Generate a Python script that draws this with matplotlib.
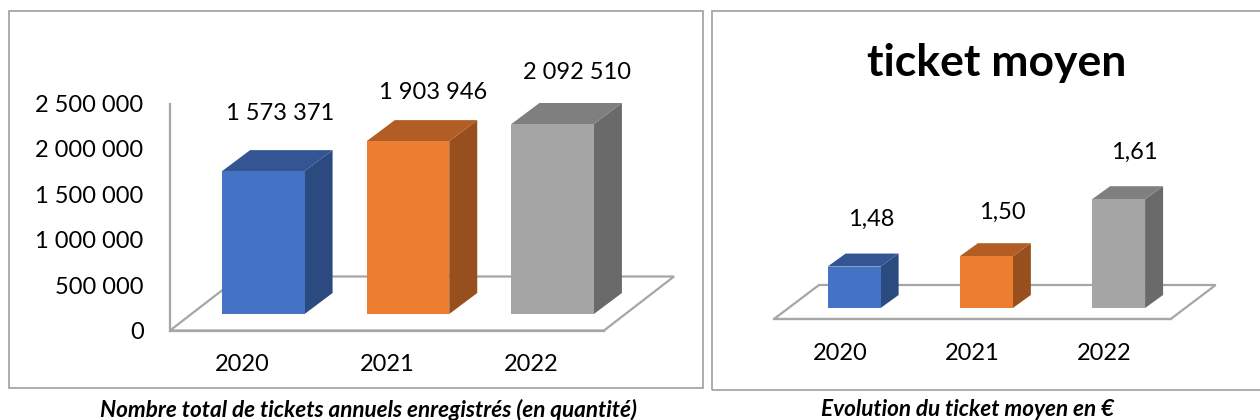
import matplotlib
matplotlib.use("Agg")
import matplotlib.pyplot as plt
from matplotlib.patches import Polygon, Rectangle

plt.rcParams['font.family'] = ['Lato', 'DejaVu Sans']

W, H = 1260, 420

years = ['2020', '2021', '2022']
tickets = [1573371, 1903946, 2092510]
ticket_ticks = [0, 500000, 1000000, 1500000, 2000000, 2500000]
ticket_labels = ['1 573 371', '1 903 946', '2 092 510']
moyen = [1.48, 1.50, 1.61]
moyen_labels = ['1,48', '1,50', '1,61']

# front, top, side
blue = ['#4472c4', '#335593', '#2b4a80']
orange = ['#ed7d31', '#b25d23', '#97501d']
grey = ['#a5a5a5', '#7f7f7f', '#6a6a6a']
colors = [blue, orange, grey]
line_color = '#a6a6a6'
text_size = 17


def make_axes(fig, left, right, bottom, top):
    # pixel box, y counted from the top of the image
    ax = fig.add_axes([left / W, 1 - bottom / H, (right - left) / W, (bottom - top) / H])
    ax.patch.set_alpha(0)
    return ax


def draw_bars(ax, values, floor, ymin, bar_w, bar_shift, lift, depth):
    # everything in px is turned into data units so that bars follow the axes scale
    x_px, y_px = ax.transData.transform((1, ymin + 1)) - ax.transData.transform((0, ymin))
    x_px = abs(x_px)
    y_px = abs(y_px)

    fx, fy = floor[0] / x_px, floor[1] / y_px
    ax.add_patch(Polygon([(-0.5, ymin), (2.5, ymin), (2.5 + fx, ymin + fy), (-0.5 + fx, ymin + fy)],
                         closed=True, fill=False, edgecolor=line_color, lw=1.6, clip_on=False, zorder=1))

    dx, dy = depth[0] / x_px, depth[1] / y_px
    up = lift / y_px
    w = bar_w / x_px
    shift = bar_shift / x_px
    for i, v in enumerate(values):
        c = colors[i]
        x0 = i - w / 2 + shift
        x1 = i + w / 2 + shift
        y0 = ymin + up
        y1 = v + up
        ax.add_patch(Polygon([(x1, y0), (x1 + dx, y0 + dy), (x1 + dx, y1 + dy), (x1, y1)],
                             color=c[2], lw=0, clip_on=False, zorder=3))
        ax.add_patch(Polygon([(x0, y1), (x1, y1), (x1 + dx, y1 + dy), (x0 + dx, y1 + dy)],
                             color=c[1], lw=0, clip_on=False, zorder=3))
        ax.add_patch(Rectangle((x0, y0), x1 - x0, y1 - y0, color=c[0], lw=0, clip_on=False, zorder=4))


fig = plt.figure(figsize=(W / 100, H / 100), dpi=100)

# chart frames
fig.add_artist(Rectangle((9 / W, 1 - 388 / H), 694 / W, 377 / H, fill=False, edgecolor=line_color, lw=1.3))
fig.add_artist(Rectangle((712 / W, 1 - 390 / H), 560 / W, 379 / H, fill=False, edgecolor=line_color, lw=1.3))

# left chart
ax1 = make_axes(fig, 170, 604, 330.5, 103.5)
ax1.set_xlim(-0.5, 2.5)
ax1.set_ylim(0, 2500000)
ax1.set_xticks(range(3), years)
ax1.set_yticks(ticket_ticks, [f'{t:,}'.replace(',', ' ') for t in ticket_ticks])
ax1.tick_params(length=0, labelsize=text_size, colors='black')
ax1.tick_params(axis='x', pad=17)
ax1.tick_params(axis='y', pad=19)
for s in ['top', 'right']:
    ax1.spines[s].set_visible(False)
for s in ['left', 'bottom']:
    ax1.spines[s].set_color(line_color)
    ax1.spines[s].set_linewidth(1.6)
draw_bars(ax1, tickets, (70, 54), 0, 82.5, 21, 16.5, (28, 21))
label_offsets1 = [(38, 74), (46, 65), (45.5, 68)]
for i, v in enumerate(tickets):
    ax1.annotate(ticket_labels[i], (i, v), xytext=label_offsets1[i], textcoords='offset pixels',
                 ha='center', va='center', fontsize=text_size, zorder=5)

# right chart
ax2 = make_axes(fig, 774, 1170.7, 319, 163.6)
ax2.set_xlim(-0.5, 2.5)
ax2.set_ylim(1.4, 1.7)
ax2.set_xticks(range(3), years)
ax2.set_yticks([])
ax2.tick_params(length=0, labelsize=text_size, colors='black')
ax2.tick_params(axis='x', pad=17)
for s in ['top', 'right', 'left']:
    ax2.spines[s].set_visible(False)
ax2.spines['bottom'].set_color(line_color)
ax2.spines['bottom'].set_linewidth(1.6)
draw_bars(ax2, moyen, (45, 34), 1.4, 53, 14, 11, (18, 13))
label_offsets2 = [(31, 58.5), (30, 55), (29.5, 58)]
for i, v in enumerate(moyen):
    ax2.annotate(moyen_labels[i], (i, v), xytext=label_offsets2[i], textcoords='offset pixels',
                 ha='center', va='center', fontsize=text_size, zorder=5)

fig.text(996.5 / W, 1 - 63 / H, 'ticket moyen', ha='center', va='center', fontsize=32, fontweight='bold')

# captions under the frames
fig.text(368.5 / W, 1 - 410 / H, 'Nombre total de tickets annuels enregistrés (en quantité)',
         ha='center', va='center', fontsize=16.2, fontweight='bold', fontstyle='italic')
fig.text(967 / W, 1 - 410 / H, 'Evolution du ticket moyen en €',
         ha='center', va='center', fontsize=16.2, fontweight='bold', fontstyle='italic')

fig.savefig('out.png', dpi=100)
